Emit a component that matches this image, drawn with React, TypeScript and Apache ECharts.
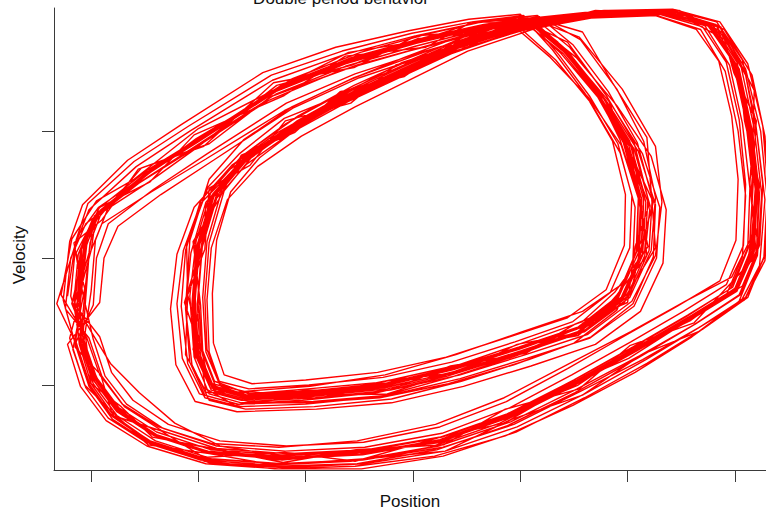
import React, { useEffect, useRef } from "react";
import * as echarts from "echarts";

// [position, velocity] samples, one array per double-period cycle (outer loop + inner loop)
const cycle01 = [[-3.22,-0.30],[-3.15,0.10],[-3.02,0.38],[-2.58,0.72],[-2.08,1.00],[-1.31,1.40],[-0.65,1.60],[0.02,1.75],[0.58,1.85],[1.05,1.90],[1.40,1.66],[1.76,1.25],[2.06,0.86],[2.21,0.41],[2.16,0.02],[1.97,-0.35],[1.60,-0.58],[1.03,-0.74],[0.41,-0.90],[-0.24,-1.03],[-0.95,-1.09],[-1.60,-1.12],[-1.91,-1.05],[-2.04,-0.78],[-2.08,-0.30],[-2.02,0.14],[-1.88,0.53],[-1.60,0.80],[-1.18,1.06],[-0.66,1.30],[-0.14,1.50],[0.42,1.71],[1.08,1.87],[1.76,1.94],[2.38,1.95],[2.82,1.84],[3.06,1.50],[3.18,1.02],[3.25,0.50],[3.21,0.02],[3.05,-0.29],[2.63,-0.52],[2.11,-0.77],[1.53,-1.03],[0.91,-1.29],[0.24,-1.48],[-0.51,-1.59],[-1.26,-1.62],[-1.93,-1.58],[-2.45,-1.44],[-2.81,-1.24],[-3.03,-0.98],[-3.14,-0.66]];
const cycle02 = [[-2.98,-0.37],[-2.95,0.00],[-2.84,0.27],[-2.42,0.54],[-1.92,0.82],[-1.18,1.22],[-0.54,1.45],[0.11,1.63],[0.66,1.76],[1.13,1.83],[1.48,1.58],[1.84,1.22],[2.14,0.82],[2.30,0.40],[2.27,0.00],[2.06,-0.38],[1.65,-0.63],[1.06,-0.79],[0.44,-0.95],[-0.22,-1.08],[-0.93,-1.13],[-1.63,-1.15],[-1.99,-1.07],[-2.15,-0.79],[-2.20,-0.36],[-2.14,0.06],[-1.98,0.43],[-1.67,0.70],[-1.24,0.95],[-0.71,1.20],[-0.18,1.41],[0.40,1.63],[1.05,1.81],[1.70,1.91],[2.30,1.92],[2.70,1.82],[2.92,1.54],[3.04,1.09],[3.10,0.58],[3.08,0.10],[2.92,-0.21],[2.52,-0.42],[2.03,-0.66],[1.48,-0.92],[0.90,-1.18],[0.27,-1.38],[-0.45,-1.49],[-1.19,-1.52],[-1.83,-1.48],[-2.33,-1.34],[-2.67,-1.15],[-2.87,-0.93],[-2.98,-0.64]];
const cycle03 = [[-3.08,-0.27],[-3.16,0.12],[-2.90,0.30],[-2.56,0.70],[-1.95,0.88],[-1.30,1.38],[-0.55,1.50],[0.03,1.75],[0.66,1.79],[1.05,1.90],[1.35,1.70],[1.70,1.33],[1.93,0.93],[2.09,0.51],[2.19,0.09],[1.88,-0.27],[1.58,-0.50],[0.95,-0.69],[0.43,-0.84],[-0.31,-0.98],[-0.98,-1.03],[-1.53,-1.07],[-1.85,-0.97],[-1.96,-0.73],[-1.98,-0.37],[-2.05,0.13],[-1.81,0.46],[-1.60,0.81],[-1.10,0.99],[-0.68,1.31],[-0.08,1.43],[0.40,1.71],[1.13,1.82],[1.70,1.95],[2.38,1.92],[2.74,1.86],[3.04,1.48],[3.09,1.08],[3.23,0.57],[3.13,0.03],[3.03,-0.22],[2.55,-0.50],[2.11,-0.70],[1.47,-1.01],[0.94,-1.22],[0.21,-1.45],[-0.46,-1.52],[-1.28,-1.59],[-1.86,-1.50],[-2.43,-1.41],[-2.72,-1.17],[-3.00,-0.99],[-3.05,-0.63]];
const cycle04 = [[-3.18,-0.36],[-3.06,0.08],[-2.98,0.31],[-2.47,0.66],[-2.02,0.94],[-1.21,1.35],[-0.61,1.56],[0.04,1.71],[0.60,1.82],[1.10,1.86],[1.36,1.60],[1.65,1.27],[1.91,0.90],[2.04,0.49],[2.02,0.08],[1.84,-0.27],[1.49,-0.50],[0.95,-0.66],[0.36,-0.82],[-0.28,-0.94],[-0.97,-1.00],[-1.53,-1.03],[-1.81,-0.97],[-1.92,-0.72],[-1.94,-0.31],[-1.90,0.12],[-1.76,0.53],[-1.49,0.81],[-1.08,1.08],[-0.57,1.32],[-0.06,1.52],[0.49,1.72],[1.13,1.87],[1.77,1.94],[2.37,1.94],[2.79,1.82],[3.04,1.49],[3.16,1.01],[3.23,0.50],[3.20,0.03],[3.04,-0.29],[2.61,-0.53],[2.09,-0.79],[1.51,-1.06],[0.88,-1.32],[0.22,-1.51],[-0.52,-1.62],[-1.27,-1.64],[-1.93,-1.59],[-2.45,-1.45],[-2.80,-1.25],[-3.01,-1.00],[-3.13,-0.69]];
const cycle05 = [[-3.32,-0.36],[-3.12,0.18],[-2.93,0.40],[-2.48,0.66],[-1.96,0.96],[-1.20,1.36],[-0.56,1.57],[0.10,1.73],[0.66,1.84],[1.18,1.90],[1.56,1.72],[1.90,1.33],[2.15,0.92],[2.26,0.48],[2.22,0.06],[2.02,-0.31],[1.62,-0.56],[1.04,-0.73],[0.43,-0.89],[-0.23,-1.01],[-0.93,-1.07],[-1.55,-1.10],[-1.86,-1.03],[-2.01,-0.77],[-2.05,-0.35],[-2.00,0.08],[-1.87,0.47],[-1.59,0.74],[-1.18,0.99],[-0.66,1.23],[-0.15,1.43],[0.41,1.65],[1.06,1.82],[1.72,1.92],[2.33,1.93],[2.75,1.84],[2.98,1.55],[3.10,1.09],[3.17,0.58],[3.14,0.11],[2.98,-0.23],[2.56,-0.45],[2.05,-0.70],[1.50,-0.96],[0.91,-1.22],[0.26,-1.41],[-0.48,-1.52],[-1.23,-1.55],[-1.88,-1.51],[-2.39,-1.37],[-2.74,-1.18],[-2.95,-0.94],[-3.07,-0.64]];
const cycle06 = [[-3.12,-0.31],[-3.07,0.09],[-2.92,0.37],[-2.49,0.67],[-1.98,0.94],[-1.22,1.36],[-0.57,1.58],[0.08,1.73],[0.63,1.83],[1.10,1.88],[1.43,1.64],[1.76,1.29],[2.03,0.88],[2.17,0.44],[2.14,0.03],[1.95,-0.33],[1.57,-0.57],[1.01,-0.73],[0.40,-0.89],[-0.25,-1.02],[-0.95,-1.08],[-1.56,-1.11],[-1.88,-1.04],[-2.02,-0.78],[-2.05,-0.31],[-1.96,0.16],[-1.80,0.58],[-1.50,0.86],[-1.07,1.12],[-0.55,1.36],[-0.05,1.55],[0.50,1.75],[1.14,1.89],[1.80,1.95],[2.44,1.94],[2.90,1.80],[3.16,1.44],[3.28,0.96],[3.32,0.45],[3.28,-0.02],[3.09,-0.33],[2.66,-0.55],[2.14,-0.80],[1.56,-1.05],[0.94,-1.31],[0.28,-1.49],[-0.47,-1.59],[-1.22,-1.62],[-1.88,-1.58],[-2.40,-1.44],[-2.76,-1.24],[-2.98,-0.99],[-3.10,-0.68]];
const cycle07 = [[-3.06,-0.28],[-3.01,0.12],[-2.89,0.39],[-2.45,0.69],[-1.94,0.97],[-1.18,1.38],[-0.53,1.59],[0.12,1.74],[0.66,1.84],[1.13,1.89],[1.46,1.66],[1.78,1.31],[2.06,0.91],[2.19,0.47],[2.16,0.06],[1.97,-0.30],[1.59,-0.54],[1.03,-0.70],[0.42,-0.86],[-0.23,-0.99],[-0.93,-1.05],[-1.55,-1.08],[-1.84,-1.01],[-1.97,-0.73],[-2.00,-0.30],[-1.96,0.13],[-1.82,0.52],[-1.54,0.80],[-1.12,1.05],[-0.60,1.29],[-0.09,1.49],[0.47,1.70],[1.12,1.86],[1.76,1.94],[2.37,1.95],[2.79,1.84],[3.02,1.54],[3.14,1.07],[3.21,0.56],[3.18,0.08],[3.02,-0.23],[2.60,-0.45],[2.09,-0.70],[1.53,-0.96],[0.92,-1.22],[0.27,-1.41],[-0.47,-1.52],[-1.22,-1.56],[-1.80,-1.48],[-2.22,-1.30],[-2.55,-1.06],[-2.82,-0.83],[-3.00,-0.58]];
const cycle08 = [[-3.16,-0.34],[-3.12,0.03],[-2.99,0.30],[-2.54,0.60],[-2.03,0.88],[-1.28,1.29],[-0.63,1.51],[0.03,1.67],[0.59,1.79],[1.06,1.85],[1.38,1.61],[1.72,1.27],[1.98,0.88],[2.12,0.45],[2.10,0.04],[1.91,-0.32],[1.53,-0.56],[0.98,-0.72],[0.37,-0.88],[-0.28,-1.01],[-0.98,-1.07],[-1.52,-1.09],[-1.79,-1.01],[-1.90,-0.74],[-1.92,-0.33],[-1.88,0.08],[-1.73,0.46],[-1.45,0.72],[-1.04,0.96],[-0.54,1.19],[-0.04,1.40],[0.51,1.63],[1.15,1.81],[1.79,1.92],[2.38,1.93],[2.78,1.82],[3.01,1.51],[3.13,1.04],[3.20,0.53],[3.17,0.05],[3.01,-0.26],[2.59,-0.48],[2.08,-0.73],[1.52,-0.99],[0.91,-1.25],[0.26,-1.44],[-0.48,-1.55],[-1.23,-1.58],[-1.88,-1.54],[-2.39,-1.40],[-2.74,-1.21],[-2.95,-0.97],[-3.07,-0.67]];
const cycle09 = [[-3.00,-0.26],[-2.96,0.14],[-2.83,0.42],[-2.40,0.73],[-1.88,1.00],[-1.13,1.41],[-0.49,1.62],[0.16,1.77],[0.70,1.87],[1.16,1.91],[1.49,1.68],[1.82,1.31],[2.09,0.91],[2.23,0.47],[2.20,0.06],[2.01,-0.30],[1.63,-0.53],[1.07,-0.69],[0.46,-0.85],[-0.19,-0.98],[-0.89,-1.04],[-1.50,-1.07],[-1.80,-1.00],[-1.93,-0.74],[-1.96,-0.31],[-1.92,0.13],[-1.78,0.54],[-1.50,0.82],[-1.08,1.07],[-0.56,1.31],[-0.05,1.51],[0.51,1.72],[1.16,1.88],[1.81,1.95],[2.41,1.95],[2.83,1.86],[3.07,1.56],[3.19,1.09],[3.26,0.58],[3.23,0.10],[3.07,-0.22],[2.65,-0.44],[2.14,-0.69],[1.57,-0.95],[0.96,-1.21],[0.31,-1.40],[-0.43,-1.51],[-1.18,-1.54],[-1.83,-1.50],[-2.34,-1.36],[-2.69,-1.17],[-2.90,-0.93],[-3.02,-0.63]];
const cycle10 = [[-3.24,-0.40],[-3.19,0.00],[-3.05,0.27],[-2.61,0.56],[-2.10,0.83],[-1.35,1.24],[-0.70,1.47],[-0.04,1.63],[0.52,1.75],[1.00,1.81],[1.33,1.56],[1.66,1.22],[1.93,0.83],[2.07,0.40],[2.05,-0.01],[1.87,-0.37],[1.49,-0.61],[0.93,-0.77],[0.32,-0.93],[-0.33,-1.06],[-1.03,-1.12],[-1.64,-1.15],[-1.94,-1.08],[-2.08,-0.82],[-2.12,-0.39],[-2.07,0.04],[-1.93,0.44],[-1.65,0.71],[-1.23,0.96],[-0.71,1.20],[-0.20,1.40],[0.36,1.62],[1.01,1.79],[1.66,1.89],[2.27,1.91],[2.68,1.80],[2.91,1.47],[3.03,1.00],[3.10,0.49],[3.07,0.01],[2.91,-0.31],[2.49,-0.53],[1.98,-0.78],[1.42,-1.04],[0.81,-1.30],[0.16,-1.49],[-0.58,-1.60],[-1.33,-1.63],[-1.98,-1.59],[-2.49,-1.45],[-2.84,-1.26],[-3.05,-1.02],[-3.17,-0.72]];
const cycle11 = [[-3.06,-0.24],[-3.14,0.04],[-2.92,0.40],[-2.45,0.60],[-2.04,0.97],[-1.20,1.28],[-0.63,1.59],[0.12,1.66],[0.55,1.86],[1.13,1.85],[1.35,1.68],[1.79,1.24],[1.96,0.94],[2.20,0.42],[2.07,0.09],[2.00,-0.35],[1.51,-0.52],[1.05,-0.75],[0.35,-0.85],[-0.22,-1.04],[-1.00,-1.04],[-1.53,-1.11],[-1.90,-0.99],[-1.95,-0.80],[-2.10,-0.29],[-1.94,0.07],[-1.90,0.55],[-1.52,0.73],[-1.19,1.08],[-0.58,1.22],[-0.16,1.52],[0.48,1.65],[1.04,1.88],[1.80,1.91],[2.32,1.95],[2.84,1.80],[2.96,1.57],[3.17,0.98],[3.14,0.59],[3.20,0.02],[2.96,-0.20],[2.62,-0.51],[2.02,-0.69],[1.55,-1.03],[0.86,-1.19],[0.29,-1.47],[-0.53,-1.51],[-1.21,-1.61],[-1.94,-1.49],[-2.36,-1.42],[-2.79,-1.16],[-2.92,-0.99],[-3.12,-0.62]];
const cycle12 = [[-3.13,-0.32],[-3.09,0.07],[-2.94,0.35],[-2.51,0.64],[-2.00,0.92],[-1.25,1.33],[-0.60,1.55],[0.06,1.71],[0.61,1.82],[1.08,1.87],[1.41,1.63],[1.73,1.29],[1.99,0.90],[2.13,0.47],[2.11,0.06],[1.92,-0.30],[1.55,-0.54],[0.99,-0.70],[0.38,-0.86],[-0.27,-0.99],[-0.97,-1.05],[-1.58,-1.08],[-1.88,-1.01],[-2.01,-0.75],[-2.04,-0.32],[-2.00,0.11],[-1.86,0.51],[-1.58,0.78],[-1.16,1.03],[-0.64,1.27],[-0.13,1.47],[0.43,1.69],[1.08,1.85],[1.73,1.93],[2.45,1.93],[2.95,1.70],[3.18,1.32],[3.17,0.98],[3.19,0.55],[3.15,0.07],[2.99,-0.26],[2.57,-0.48],[2.06,-0.73],[1.50,-0.99],[0.89,-1.25],[0.24,-1.44],[-0.50,-1.55],[-1.25,-1.58],[-1.90,-1.54],[-2.41,-1.40],[-2.76,-1.21],[-2.97,-0.97],[-3.09,-0.67]];
const cycle13 = [[-3.11,-0.29],[-3.05,0.12],[-2.93,0.39],[-2.48,0.69],[-1.96,0.96],[-1.21,1.37],[-0.56,1.58],[0.09,1.73],[0.64,1.83],[1.12,1.88],[1.55,1.74],[1.95,1.33],[2.26,0.88],[2.32,0.44],[2.26,0.02],[2.04,-0.34],[1.63,-0.60],[1.05,-0.76],[0.44,-0.92],[-0.21,-1.04],[-0.91,-1.10],[-1.53,-1.13],[-1.84,-1.06],[-1.98,-0.79],[-2.01,-0.36],[-1.97,0.07],[-1.83,0.47],[-1.55,0.74],[-1.13,0.99],[-0.61,1.23],[-0.10,1.43],[0.46,1.65],[1.11,1.82],[1.76,1.92],[2.37,1.93],[2.79,1.82],[3.02,1.51],[3.14,1.04],[3.21,0.53],[3.18,0.05],[3.02,-0.26],[2.60,-0.48],[2.09,-0.73],[1.53,-0.99],[0.92,-1.25],[0.27,-1.44],[-0.47,-1.55],[-1.22,-1.58],[-1.87,-1.54],[-2.38,-1.40],[-2.73,-1.21],[-2.94,-0.97],[-3.06,-0.67]];
const cycle14 = [[-3.19,-0.30],[-3.14,0.14],[-3.03,0.43],[-2.60,0.76],[-2.09,1.04],[-1.32,1.44],[-0.66,1.63],[-0.01,1.77],[0.55,1.86],[1.03,1.91],[1.37,1.67],[1.70,1.31],[1.96,0.91],[2.10,0.47],[2.08,0.05],[1.90,-0.33],[1.52,-0.59],[0.96,-0.77],[0.35,-0.94],[-0.30,-1.09],[-1.00,-1.15],[-1.61,-1.17],[-1.94,-1.10],[-2.10,-0.83],[-2.16,-0.38],[-2.12,0.06],[-1.98,0.45],[-1.69,0.73],[-1.26,0.99],[-0.74,1.23],[-0.22,1.44],[0.35,1.66],[1.01,1.83],[1.67,1.92],[2.30,1.93],[2.72,1.83],[2.95,1.52],[3.07,1.06],[3.14,0.55],[3.12,0.08],[2.96,-0.24],[2.55,-0.46],[2.04,-0.71],[1.48,-0.97],[0.87,-1.23],[0.22,-1.42],[-0.52,-1.53],[-1.27,-1.56],[-1.92,-1.52],[-2.43,-1.38],[-2.78,-1.19],[-2.99,-0.95],[-3.11,-0.65]];
const cycle15 = [[-3.16,-0.37],[-3.02,0.04],[-2.97,0.32],[-2.46,0.60],[-2.03,0.86],[-1.27,1.36],[-0.57,1.52],[0.05,1.73],[0.65,1.78],[1.07,1.89],[1.47,1.60],[1.69,1.31],[2.05,0.86],[2.11,0.50],[2.18,0.02],[1.90,-0.29],[1.60,-0.58],[0.97,-0.68],[0.43,-0.90],[-0.27,-0.97],[-0.94,-1.09],[-1.59,-1.06],[-1.85,-1.05],[-2.05,-0.72],[-1.99,-0.34],[-2.04,0.11],[-1.83,0.48],[-1.59,0.80],[-1.13,1.00],[-0.66,1.30],[-0.09,1.44],[0.42,1.70],[1.12,1.83],[1.72,1.94],[2.36,1.92],[2.75,1.85],[3.03,1.50],[3.10,1.08],[3.22,0.52],[3.14,0.04],[3.00,-0.24],[2.59,-0.49],[2.05,-0.71],[1.54,-1.00],[0.88,-1.23],[0.27,-1.45],[-0.50,-1.53],[-1.22,-1.59],[-1.91,-1.52],[-2.38,-1.41],[-2.77,-1.19],[-2.94,-0.98],[-3.10,-0.65]];
const cycle16 = [[-3.10,-0.33],[-3.09,0.08],[-2.95,0.35],[-2.52,0.64],[-2.01,0.91],[-1.26,1.32],[-0.61,1.54],[0.05,1.70],[0.60,1.81],[1.07,1.86],[1.41,1.62],[1.74,1.28],[2.01,0.89],[2.15,0.46],[2.13,0.05],[1.94,-0.31],[1.56,-0.55],[1.00,-0.71],[0.39,-0.87],[-0.26,-1.00],[-0.96,-1.06],[-1.57,-1.09],[-1.87,-1.02],[-2.00,-0.76],[-2.03,-0.33],[-1.99,0.10],[-1.85,0.50],[-1.57,0.77],[-1.15,1.02],[-0.63,1.26],[-0.12,1.46],[0.44,1.68],[1.09,1.84],[1.74,1.93],[2.35,1.94],[2.77,1.83],[3.00,1.52],[3.12,1.05],[3.19,0.54],[3.16,0.06],[3.00,-0.25],[2.58,-0.47],[2.07,-0.72],[1.51,-0.98],[0.90,-1.24],[0.25,-1.43],[-0.49,-1.54],[-1.24,-1.57],[-1.89,-1.53],[-2.40,-1.39],[-2.75,-1.20],[-2.96,-0.96],[-3.08,-0.66]];
const cycle17 = [[-3.05,-0.31],[-3.02,0.02],[-2.90,0.27],[-2.44,0.52],[-1.93,0.78],[-1.20,1.16],[-0.55,1.42],[0.10,1.62],[0.64,1.77],[1.12,1.84],[1.47,1.60],[1.80,1.24],[2.10,0.84],[2.26,0.42],[2.24,0.01],[2.05,-0.36],[1.66,-0.62],[1.08,-0.80],[0.45,-0.97],[-0.20,-1.11],[-0.92,-1.17],[-1.56,-1.19],[-1.90,-1.12],[-2.06,-0.84],[-2.12,-0.40],[-2.08,0.14],[-1.90,0.62],[-1.58,0.93],[-1.13,1.19],[-0.60,1.40],[-0.08,1.58],[0.48,1.76],[1.12,1.89],[1.78,1.95],[2.40,1.95],[2.85,1.83],[3.10,1.49],[3.24,1.00],[3.30,0.48],[3.27,0.00],[3.10,-0.31],[2.68,-0.54],[2.17,-0.80],[1.60,-1.07],[0.97,-1.33],[0.30,-1.52],[-0.46,-1.62],[-1.22,-1.65],[-1.90,-1.61],[-2.43,-1.47],[-2.80,-1.27],[-3.02,-1.01],[-3.14,-0.70]];
const cycle18 = [[-3.26,-0.33],[-3.20,0.13],[-3.08,0.42],[-2.66,0.77],[-2.16,1.05],[-1.40,1.46],[-0.72,1.66],[-0.04,1.79],[0.52,1.88],[1.00,1.92],[1.30,1.64],[1.60,1.30],[1.86,0.92],[1.98,0.50],[1.97,0.10],[1.80,-0.25],[1.44,-0.47],[0.90,-0.62],[0.31,-0.78],[-0.33,-0.90],[-1.00,-0.96],[-1.50,-0.99],[-1.76,-0.92],[-1.86,-0.67],[-1.87,-0.28],[-1.83,0.14],[-1.70,0.52],[-1.43,0.79],[-1.03,1.05],[-0.52,1.30],[-0.02,1.52],[0.54,1.73],[1.18,1.88],[1.82,1.95],[2.42,1.96],[2.86,1.86],[3.12,1.53],[3.26,1.04],[3.31,0.52],[3.28,0.03],[3.12,-0.31],[2.70,-0.56],[2.18,-0.83],[1.60,-1.10],[0.96,-1.37],[0.28,-1.56],[-0.48,-1.66],[-1.25,-1.66],[-1.93,-1.62],[-2.48,-1.48],[-2.86,-1.28],[-3.10,-1.01],[-3.22,-0.68]];
const cycle19 = [[-2.92,-0.35],[-2.88,0.00],[-2.75,0.25],[-2.35,0.50],[-1.86,0.77],[-1.12,1.18],[-0.50,1.42],[0.14,1.60],[0.70,1.74],[1.16,1.82],[1.52,1.58],[1.90,1.20],[2.22,0.80],[2.36,0.38],[2.33,-0.04],[2.12,-0.42],[1.70,-0.68],[1.10,-0.85],[0.47,-1.01],[-0.20,-1.14],[-0.90,-1.19],[-1.64,-1.21],[-2.03,-1.13],[-2.21,-0.84],[-2.26,-0.40],[-2.20,0.03],[-2.04,0.40],[-1.74,0.68],[-1.30,0.92],[-0.77,1.17],[-0.23,1.39],[0.36,1.61],[1.02,1.80],[1.67,1.90],[2.26,1.91],[2.64,1.80],[2.85,1.55],[2.97,1.12],[3.03,0.62],[3.01,0.14],[2.86,-0.18],[2.46,-0.38],[1.98,-0.61],[1.44,-0.87],[0.87,-1.13],[0.25,-1.33],[-0.46,-1.45],[-1.18,-1.48],[-1.80,-1.44],[-2.28,-1.31],[-2.61,-1.12],[-2.81,-0.90],[-2.92,-0.62]];
const cycle20 = [[-3.14,-0.38],[-3.00,0.06],[-2.96,0.29],[-2.53,0.71],[-1.90,0.90],[-1.33,1.27],[-0.52,1.52],[0.00,1.64],[0.68,1.80],[1.02,1.87],[1.44,1.70],[1.81,1.27],[1.95,0.96],[2.24,0.44],[2.10,0.00],[2.03,-0.28],[1.54,-0.61],[1.08,-0.68],[0.33,-0.91],[-0.21,-0.96],[-1.01,-1.10],[-1.52,-1.05],[-1.93,-1.06],[-1.99,-0.70],[-2.13,-0.35],[-1.95,0.15],[-1.93,0.42],[-1.50,0.86],[-1.17,0.97],[-0.55,1.34],[-0.17,1.42],[0.49,1.73],[1.02,1.81],[1.79,1.95],[2.30,1.94],[2.87,1.82],[2.99,1.46],[3.20,1.08],[3.15,0.49],[3.22,0.08],[2.97,-0.28],[2.66,-0.44],[2.01,-0.79],[1.57,-0.95],[0.85,-1.30],[0.30,-1.40],[-0.54,-1.60],[-1.20,-1.53],[-1.95,-1.57],[-2.35,-1.36],[-2.80,-1.24],[-2.91,-0.92],[-3.15,-0.70]];
const cycle21 = [[-3.09,-0.27],[-3.04,0.11],[-2.91,0.38],[-2.47,0.68],[-1.97,0.95],[-1.22,1.35],[-0.58,1.57],[0.07,1.72],[0.62,1.82],[1.09,1.87],[1.42,1.63],[1.75,1.29],[2.02,0.92],[2.15,0.52],[2.13,0.14],[1.96,-0.20],[1.58,-0.42],[1.02,-0.58],[0.40,-0.76],[-0.26,-0.92],[-0.96,-1.01],[-1.57,-1.05],[-1.87,-0.99],[-2.00,-0.73],[-2.03,-0.31],[-1.99,0.12],[-1.85,0.52],[-1.57,0.79],[-1.15,1.04],[-0.63,1.28],[-0.12,1.48],[0.44,1.69],[1.09,1.85],[1.74,1.93],[2.35,1.94],[2.78,1.83],[3.02,1.50],[3.15,1.02],[3.22,0.50],[3.20,0.00],[3.03,-0.36],[2.60,-0.62],[2.07,-0.90],[1.49,-1.16],[0.86,-1.40],[0.20,-1.56],[-0.54,-1.64],[-1.29,-1.66],[-1.94,-1.60],[-2.44,-1.45],[-2.79,-1.24],[-3.00,-0.99],[-3.11,-0.68]];
const cycle22 = [[-3.15,-0.35],[-3.10,0.05],[-2.97,0.33],[-2.54,0.63],[-2.03,0.90],[-1.28,1.31],[-0.63,1.53],[0.03,1.69],[0.58,1.80],[1.05,1.85],[1.40,1.61],[1.74,1.26],[2.00,0.86],[2.13,0.41],[2.10,-0.02],[1.90,-0.41],[1.50,-0.67],[0.94,-0.84],[0.33,-0.99],[-0.31,-1.10],[-1.00,-1.14],[-1.60,-1.14],[-1.90,-1.07],[-2.03,-0.80],[-2.06,-0.36],[-2.02,0.08],[-1.88,0.48],[-1.60,0.75],[-1.18,1.00],[-0.66,1.24],[-0.15,1.44],[0.41,1.66],[1.06,1.83],[1.71,1.92],[2.32,1.94],[2.74,1.84],[2.98,1.55],[3.10,1.10],[3.17,0.60],[3.14,0.14],[2.97,-0.15],[2.54,-0.34],[2.03,-0.58],[1.46,-0.83],[0.85,-1.10],[0.21,-1.31],[-0.52,-1.44],[-1.25,-1.49],[-1.88,-1.46],[-2.37,-1.33],[-2.71,-1.15],[-2.92,-0.92],[-3.04,-0.63]];
const cycle23 = [[-3.28,-0.29],[-3.18,0.15],[-2.95,0.45],[-2.60,0.62],[-2.00,1.02],[-1.35,1.30],[-0.60,1.62],[0.00,1.70],[0.60,1.86],[1.14,1.89],[1.58,1.78],[1.86,1.38],[2.18,0.95],[2.22,0.52],[2.26,0.08],[1.99,-0.29],[1.66,-0.51],[1.00,-0.74],[0.46,-0.88],[-0.24,-1.07],[-0.96,-1.08],[-1.66,-1.16],[-1.95,-1.02],[-2.12,-0.76],[-2.10,-0.28],[-2.11,0.10],[-1.91,0.56],[-1.62,0.82],[-1.20,1.10],[-0.70,1.27],[-0.10,1.54],[0.38,1.67],[1.14,1.87],[1.83,1.93],[2.48,1.95],[2.88,1.78],[3.10,1.44],[3.21,0.95],[3.28,0.46],[3.23,-0.06],[3.07,-0.32],[2.66,-0.58],[2.13,-0.76],[1.58,-1.08],[0.92,-1.27],[0.30,-1.52],[-0.44,-1.58],[-1.29,-1.63],[-1.90,-1.54],[-2.47,-1.47],[-2.83,-1.19],[-3.06,-1.00],[-3.20,-0.63]];
const cycle24 = [[-3.11,-0.34],[-3.06,0.06],[-2.93,0.36],[-2.50,0.65],[-1.99,0.93],[-1.24,1.34],[-0.59,1.56],[0.05,1.71],[0.55,1.79],[0.95,1.82],[1.28,1.58],[1.64,1.26],[1.94,0.89],[2.10,0.47],[2.09,0.06],[1.91,-0.30],[1.53,-0.55],[0.98,-0.71],[0.37,-0.87],[-0.28,-1.00],[-0.98,-1.06],[-1.59,-1.09],[-1.89,-1.02],[-2.02,-0.76],[-2.05,-0.33],[-2.01,0.10],[-1.87,0.50],[-1.59,0.77],[-1.17,1.02],[-0.65,1.26],[-0.14,1.46],[0.42,1.68],[1.07,1.84],[1.72,1.93],[2.33,1.94],[2.76,1.84],[3.00,1.53],[3.13,1.06],[3.20,0.55],[3.17,0.07],[3.01,-0.25],[2.59,-0.47],[2.08,-0.72],[1.52,-0.98],[0.91,-1.24],[0.26,-1.43],[-0.48,-1.54],[-1.23,-1.57],[-1.88,-1.53],[-2.39,-1.39],[-2.74,-1.20],[-2.95,-0.96],[-3.07,-0.66]];

const cycles = [cycle01, cycle02, cycle03, cycle04, cycle05, cycle06, cycle07, cycle08,
  cycle09, cycle10, cycle11, cycle12, cycle13, cycle14, cycle15, cycle16,
  cycle17, cycle18, cycle19, cycle20, cycle21, cycle22, cycle23, cycle24];

const xTicks = [-3, -2, -1, 0, 1, 2, 3];
const yTicks = [-1, 0, 1];

const titleText = "Double period behavior";
const xLabel = "Position";
const yLabel = "Velocity";

export default function App() {
  const ref = useRef<HTMLDivElement>(null);
  useEffect(() => {
    if (!ref.current) return;
    const chart = echarts.init(ref.current, null, { renderer: "svg" });
    const trajectory = cycles.flat();
    const font = "Liberation Sans, Arial, Helvetica, sans-serif";
    const axisColor = "#3a3a3a";
    chart.setOption({
      animation: false,
      backgroundColor: "#ffffff",
      grid: { left: 54, right: 0, top: 8, bottom: 40, containLabel: false },
      xAxis: {
        type: "value",
        min: -3.346,
        max: 3.29,
        axisLine: { show: true, onZero: false, lineStyle: { color: axisColor, width: 1 } },
        axisTick: { show: true, length: 12, customValues: xTicks, lineStyle: { color: axisColor, width: 1 } },
        axisLabel: { show: false },
        splitLine: { show: false },
      },
      yAxis: {
        type: "value",
        min: -1.669,
        max: 1.969,
        axisLine: { show: true, onZero: false, lineStyle: { color: axisColor, width: 1 } },
        axisTick: { show: true, length: 12, customValues: yTicks, lineStyle: { color: axisColor, width: 1 } },
        axisLabel: { show: false },
        splitLine: { show: false },
      },
      graphic: [
        {
          type: "text",
          x: 341,
          y: -2,
          style: { text: titleText, font: `17px ${font}`, fill: "#111", textAlign: "center", textVerticalAlign: "middle" },
        },
        {
          type: "text",
          x: 410,
          y: 501,
          style: { text: xLabel, font: `17px ${font}`, fill: "#111", textAlign: "center", textVerticalAlign: "middle" },
        },
        {
          type: "text",
          x: 19,
          y: 255,
          rotation: Math.PI / 2,
          style: { text: yLabel, font: `17px ${font}`, fill: "#111", textAlign: "center", textVerticalAlign: "middle" },
        },
      ],
      series: [
        {
          type: "line",
          data: trajectory,
          showSymbol: false,
          symbol: "none",
          smooth: false,
          clip: true,
          lineStyle: { color: "#ff0000", width: 1.4 },
        },
      ],
    });
    return () => chart.dispose();
  }, []);
  return <div ref={ref} style={{ position: "fixed", left: 0, top: 0, width: 766, height: 510 }} />;
}
